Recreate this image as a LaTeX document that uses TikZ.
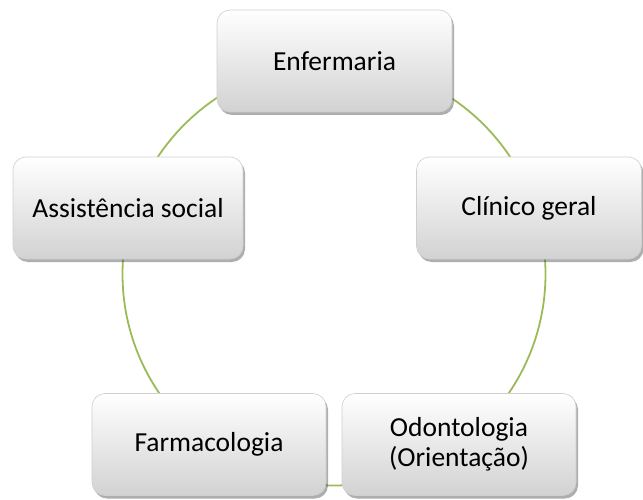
\documentclass[tikz,border=0pt]{standalone}
\usepackage{fontspec}
\setmainfont{Carlito}
\usetikzlibrary{shadows,shadings}
\definecolor{cyclegreen}{HTML}{9BBB59}
\definecolor{boxedge}{HTML}{CFCFCF}
\definecolor{boxbottom}{HTML}{D2D2D2}
\tikzset{
  cyclebox/.style={draw=boxedge, line width=0.6pt, rounded corners=13pt,
    top color=white, bottom color=boxbottom, shading angle=0,
    minimum height=102pt, inner sep=0pt, align=center,
    font=\fontsize{27.5}{30}\selectfont,
    drop shadow={opacity=0.45, shadow xshift=2pt, shadow yshift=-3pt, fill=black!70}},
  cycleline/.style={draw=cyclegreen, line width=1.8pt}
}
\begin{document}
\begin{tikzpicture}[x=1pt,y=-1pt]
\useasboundingbox (0,0) rectangle (643,500);
\coordinate (ctr) at (334,274);
\draw[cycleline] (ctr) circle[radius=211.5];
\node[cyclebox, minimum width=235pt] (enf) at (334.5,61) {Enfermaria};
\node[cyclebox, minimum width=225pt] (cli) at (529,208) {Clínico geral};
\node[cyclebox, minimum width=230pt] (ass) at (128,208) {Assistência social};
\node[cyclebox, minimum width=234pt] (far) at (209,444.5) {Farmacologia};
\node[cyclebox, minimum width=234pt] (odo) at (459,444.5) {Odontologia\\(Orientação)};
\end{tikzpicture}
\end{document}
